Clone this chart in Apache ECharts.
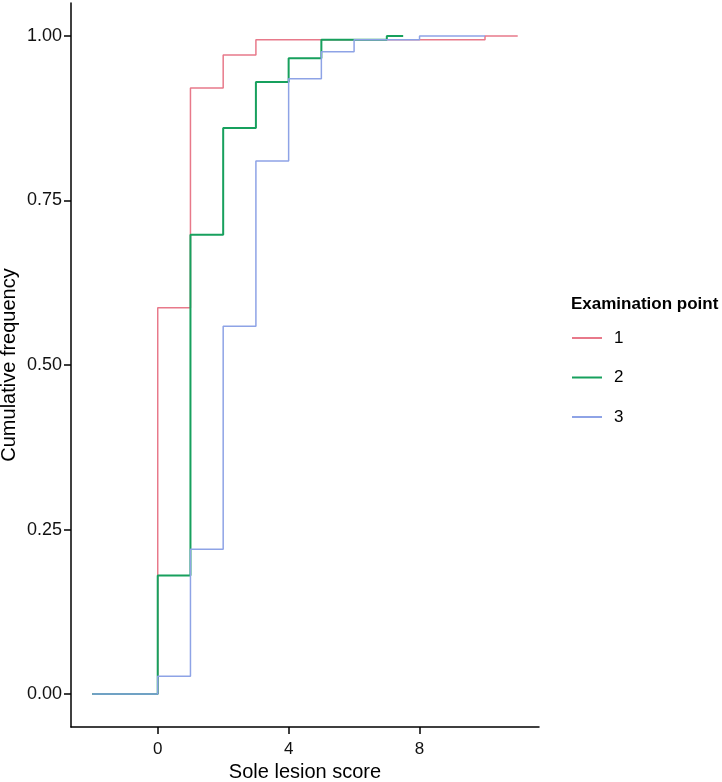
<!DOCTYPE html>
<html><head><meta charset="utf-8">
<script src="https://cdn.jsdelivr.net/npm/echarts@6/dist/echarts.min.js"></script>
<style>html,body{margin:0;padding:0;background:#fff}#c{width:722px;height:782px}</style>
</head><body><div id="c"></div>
<script>
const seriesNames = ['1', '2', '3'];
const scores1 = [-2, -1, 0, 1, 2, 3, 4, 5, 6, 7, 8, 9, 10, 11];
const freq1   = [0, 0, 0.587, 0.921, 0.971, 0.994, 0.994, 0.994, 0.994, 0.994, 0.994, 0.994, 1, 1];
const scores2 = [-2, -1, 0, 1, 2, 3, 4, 5, 6, 7, 7.5];
const freq2   = [0, 0, 0.18, 0.698, 0.86, 0.93, 0.966, 0.994, 0.994, 1, 1];
const scores3 = [-2, -1, 0, 1, 2, 3, 4, 5, 6, 7, 8, 9, 10];
const freq3   = [0, 0, 0.027, 0.22, 0.559, 0.81, 0.935, 0.976, 0.994, 0.994, 1, 1, 1];
const xTicks = [0, 4, 8];
const yTicks = [0, 0.25, 0.5, 0.75, 1];

const colors = ['#E8798A', '#17A05D', '#8EA3E6'];
const widths = [1.5, 2, 1.5];
const allScores = [scores1, scores2, scores3];
const allFreq = [freq1, freq2, freq3];
const FONT = 'Liberation Sans, Arial, sans-serif';

const chart = echarts.init(document.getElementById('c'), null, {renderer: 'canvas'});
chart.setOption({
  backgroundColor: '#fff',
  animation: false,
  title: {
    text: 'Examination point',
    left: 566, top: 291,
    textStyle: {fontFamily: FONT, fontSize: 17, fontWeight: 'bold', color: '#000'}
  },
  legend: {
    orient: 'vertical',
    left: 567, top: 323,
    icon: 'rect',
    itemWidth: 30, itemHeight: 2, itemGap: 19.5,
    data: seriesNames,
    textStyle: {fontFamily: FONT, fontSize: 17, color: '#000', lineHeight: 20, padding: [0, 0, 0, 7]}
  },
  grid: {left: 71, right: 183, top: 3, bottom: 55, outerBoundsMode: 'none'},
  xAxis: {
    type: 'value', min: -2.65, max: 11.65,
    name: 'Sole lesion score', nameLocation: 'middle', nameGap: 35, nameMoveOverlap: false,
    nameTextStyle: {fontFamily: FONT, fontSize: 20, color: '#000'},
    axisLine: {show: true, onZero: false, lineStyle: {color: '#000', width: 1.5}},
    axisTick: {show: true, length: 7, lineStyle: {color: '#000', width: 1.5}, customValues: xTicks},
    axisLabel: {fontFamily: FONT, fontSize: 17, color: '#111', margin: 14, customValues: xTicks},
    splitLine: {show: false}
  },
  yAxis: {
    type: 'value', min: -0.05, max: 1.05,
    name: 'Cumulative frequency', nameLocation: 'middle', nameGap: 52, nameMoveOverlap: false,
    nameTextStyle: {fontFamily: FONT, fontSize: 20, color: '#000'},
    axisLine: {show: true, onZero: false, lineStyle: {color: '#000', width: 1.5}},
    axisTick: {show: true, length: 7, lineStyle: {color: '#000', width: 1.5}, customValues: yTicks},
    axisLabel: {fontFamily: FONT, fontSize: 18, color: '#111', margin: 9, customValues: yTicks,
      formatter: v => v.toFixed(2)},
    splitLine: {show: false}
  },
  series: seriesNames.map((n, i) => ({
    name: n,
    type: 'line',
    step: 'end',
    symbol: 'none',
    showSymbol: false,
    color: colors[i],
    lineStyle: {color: colors[i], width: widths[i]},
    data: allScores[i].map((x, j) => [x, allFreq[i][j]])
  }))
});
</script>
</body></html>
